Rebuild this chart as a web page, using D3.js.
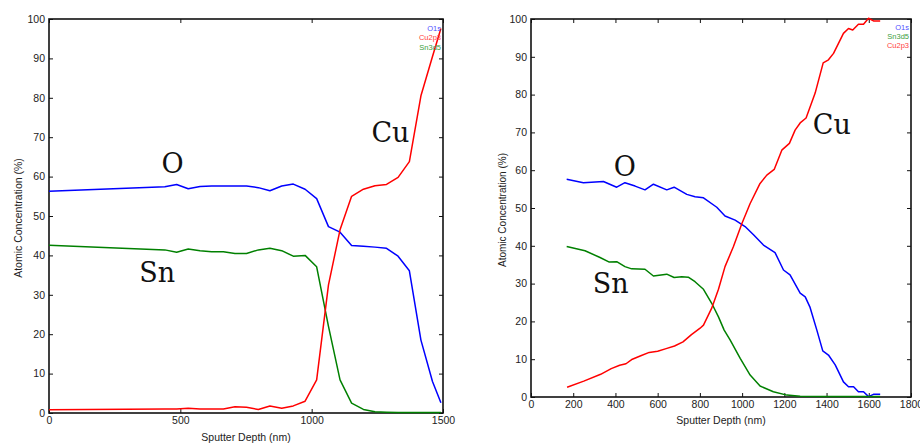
<!DOCTYPE html>
<html><head><meta charset="utf-8">
<script src="https://cdn.jsdelivr.net/npm/d3@7/dist/d3.min.js"></script>
<style>
body{margin:0;background:#fff;}
svg{display:block;}
.tick text{font-family:"Liberation Sans",Arial,sans-serif;font-size:10.5px;fill:#222;}
</style></head><body>
<svg id="c" width="920" height="443"></svg>
<script>
// ---------- Left panel data ----------
const leftXTicks = [0, 500, 1000, 1500];
const leftYTicks = [0,10,20,30,40,50,60,70,80,90,100];
const leftDepth = [0,441,486,530,575,619,664,708,752,797,841,886,930,975,1019,1064,1108,1152,1197,1241,1285,1329,1372,1416,1460,1492];
const leftO  = [56.3,57.4,58.0,56.9,57.5,57.6,57.6,57.6,57.6,57.2,56.4,57.6,58.1,56.8,54.4,47.3,45.9,42.5,42.3,42.1,41.8,39.8,36.1,18.5,8.0,2.6];
const leftSn = [42.6,41.4,40.8,41.6,41.2,40.9,40.9,40.5,40.5,41.4,41.8,41.2,39.8,40.0,37.1,22.0,8.4,2.5,0.9,0.3,0.2,0.1,0.1,0.1,0.1,0.1];
const leftCu = [0.85,1.0,1.0,1.2,1.0,1.0,1.0,1.6,1.45,0.9,1.8,1.2,1.8,3.0,8.4,32.5,46.5,55.0,56.8,57.7,58.0,59.8,63.8,80.5,90.5,97.6];
const leftLegend = ["O1s","Cu2p3","Sn3d5"];

// ---------- Right panel data ----------
const rightXTicks = [0,200,400,600,800,1000,1200,1400,1600,1800];
const rightYTicks = [0,10,20,30,40,50,60,70,80,90,100];
const rightODepth = [169,248,343,406,445,493,540,580,643,678,738,777,817,880,919,967,1014,1054,1101,1156,1196,1227,1275,1299,1322,1354,1382,1409,1441,1480,1504,1528,1551,1575,1599,1622,1654];
const rightO = [57.6,56.7,57.0,55.5,56.7,55.8,54.8,56.3,54.8,55.5,53.6,53.0,52.7,50.2,47.9,46.8,45.1,42.9,40.2,38.2,33.6,32.3,27.5,26.5,23.7,17.7,12.2,11.1,8.5,4.0,2.7,2.7,1.4,1.4,0.1,0.7,0.7];
const rightSnDepth = [169,256,327,371,406,445,477,540,580,643,678,714,745,777,817,856,888,915,943,991,1038,1085,1148,1212,1275,1400,1550,1654];
const rightSn = [39.8,38.7,36.9,35.7,35.8,34.5,33.9,33.8,32.0,32.5,31.6,31.8,31.7,30.5,28.5,24.8,21.2,17.7,15.1,10.2,5.8,2.9,1.4,0.5,0.2,0.1,0.1,0.1];
const rightCuDepth = [171,250,330,380,420,450,480,520,560,600,640,680,720,760,801,817,856,888,919,959,999,1038,1085,1117,1152,1188,1224,1251,1275,1303,1346,1384,1409,1433,1480,1504,1524,1551,1575,1599,1622,1654];
const rightCu = [2.6,4.2,6.0,7.5,8.4,8.8,10.0,10.9,11.8,12.1,12.8,13.5,14.6,16.5,18.2,19.0,23.5,28.5,34.5,39.8,45.9,51.2,56.5,58.7,60.2,65.3,67.1,70.6,72.5,73.8,80.4,88.4,89.2,90.9,96.2,97.5,97.1,98.6,98.6,100.2,99.5,99.5];
const rightLegend = ["O1s","Sn3d5","Cu2p3"];

const xTitle = "Sputter Depth (nm)";
const yTitle = "Atomic Concentration (%)";
const colors = {O:"#0000ff", Cu:"#ff0000", Sn:"#008000"};
const legendColors = {O1s:"#5050ff", Cu2p3:"#ff4040", Sn3d5:"#40a040"};

const svg = d3.select("#c");

function panel(cfg){
  const g = svg.append("g");
  const x = d3.scaleLinear().domain(cfg.xDomain).range([cfg.left, cfg.right]);
  const y = d3.scaleLinear().domain([0,100]).range([cfg.bottom, cfg.top]);
  const tl = 4;
  // axes
  g.append("g").attr("transform",`translate(0,${cfg.bottom})`)
    .call(d3.axisBottom(x).tickValues(cfg.xTicks).tickSize(-tl).tickPadding(4).tickFormat(d3.format("d")));
  g.append("g").attr("transform",`translate(0,${cfg.top})`)
    .call(d3.axisTop(x).tickValues(cfg.xTicks).tickSize(-tl).tickFormat(""));
  g.append("g").attr("transform",`translate(${cfg.left},0)`)
    .call(d3.axisLeft(y).tickValues(cfg.yTicks).tickSize(-tl).tickPadding(4).tickFormat(d3.format("d")));
  g.append("g").attr("transform",`translate(${cfg.right},0)`)
    .call(d3.axisRight(y).tickValues(cfg.yTicks).tickSize(-tl).tickFormat(""));
  g.selectAll(".domain").attr("stroke","none");
  g.selectAll(".tick line").attr("stroke","#111").attr("stroke-width",1);
  // frame
  g.append("rect").attr("x",cfg.left).attr("y",cfg.top)
    .attr("width",cfg.right-cfg.left).attr("height",cfg.bottom-cfg.top)
    .attr("fill","none").attr("stroke","#111").attr("stroke-width",1.6);
  // lines
  const line = d3.line().x(d=>x(d[0])).y(d=>y(d[1]));
  cfg.series.forEach(s=>{
    g.append("path").datum(d3.zip(s.xs, s.ys))
      .attr("d",line).attr("fill","none").attr("stroke",s.color)
      .attr("stroke-width",1.5).attr("stroke-linejoin","round");
  });
  // legend
  cfg.legend.forEach((t,i)=>{
    g.append("text").attr("x",cfg.right-2).attr("y",cfg.legendY[i])
      .attr("text-anchor","end").attr("font-family","Liberation Sans, Arial, sans-serif")
      .attr("font-size",7.5).attr("fill",legendColors[t]).text(t);
  });
  // titles
  g.append("text").attr("x",(cfg.left+cfg.right)/2).attr("y",cfg.xTitleY)
    .attr("text-anchor","middle").attr("font-family","Liberation Sans, Arial, sans-serif")
    .attr("font-size",10.5).attr("fill","#222").text(xTitle);
  g.append("text").attr("transform",`translate(${cfg.yTitleX},${cfg.yTitleCY}) rotate(-90)`)
    .attr("text-anchor","middle").attr("font-family","Liberation Sans, Arial, sans-serif")
    .attr("font-size",cfg.yTitleSize).attr("fill","#222").text(yTitle);
  // element labels
  cfg.labels.forEach(l=>{
    g.append("text").attr("x",x(l.x)).attr("y",y(l.y))
      .attr("text-anchor","middle").attr("font-family","DejaVu Serif, serif")
      .attr("font-size",27).attr("fill","#111").text(l.t);
  });
}

panel({
  xDomain:[0,1500], left:49, right:443, top:19, bottom:413,
  xTicks:leftXTicks, yTicks:leftYTicks,
  series:[
    {xs:leftDepth, ys:leftO, color:colors.O},
    {xs:leftDepth, ys:leftSn, color:colors.Sn},
    {xs:leftDepth, ys:leftCu, color:colors.Cu}
  ],
  legend:leftLegend, legendY:[31,40,50],
  xTitleY:441, yTitleX:22, yTitleCY:218, yTitleSize:10.5,
  labels:[{t:"O",x:470,y:61},{t:"Sn",x:412,y:33.2},{t:"Cu",x:1300,y:68.8}]
});

panel({
  xDomain:[0,1800], left:531, right:911, top:19, bottom:397,
  xTicks:rightXTicks, yTicks:rightYTicks,
  series:[
    {xs:rightODepth, ys:rightO, color:colors.O},
    {xs:rightSnDepth, ys:rightSn, color:colors.Sn},
    {xs:rightCuDepth, ys:rightCu, color:colors.Cu}
  ],
  legend:rightLegend, legendY:[30,39,48],
  xTitleY:424, yTitleX:506, yTitleCY:210, yTitleSize:10,
  labels:[{t:"O",x:445,y:58.5},{t:"Sn",x:378,y:27.5},{t:"Cu",x:1425,y:69.5}]
});
</script>
</body></html>
